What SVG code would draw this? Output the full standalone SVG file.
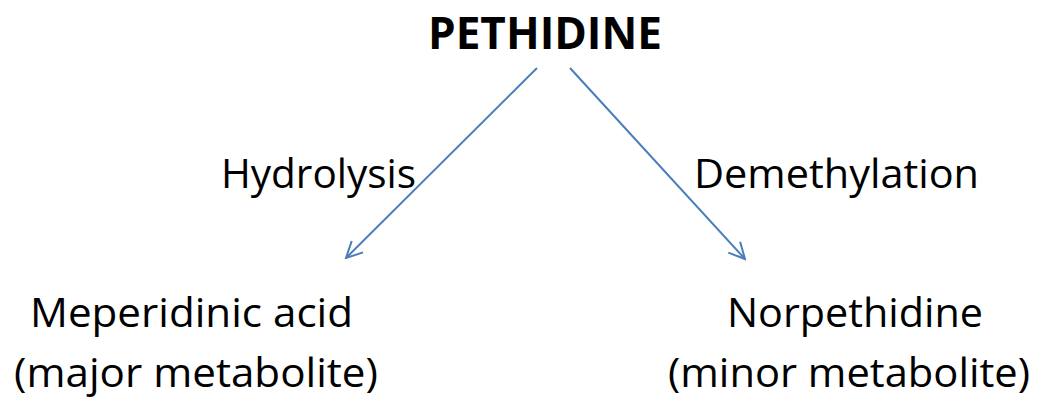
<svg xmlns="http://www.w3.org/2000/svg" width="1042" height="404" viewBox="0 0 1042 404">
<style>
text{font-family:"Open Sans","Liberation Sans",sans-serif;fill:#000;font-size:41px}
.t{font-weight:bold;font-size:44px}
.c{stroke:#4a7ebb;stroke-width:2;fill:none}
</style>
<defs>
<marker id="a" viewBox="0 0 20 20" refX="18" refY="10" markerWidth="20" markerHeight="20" markerUnits="userSpaceOnUse" orient="auto">
<path d="M2,2 L18,10 L2,18" fill="none" stroke="#4a7ebb" stroke-width="2"/>
</marker>
</defs>
<rect width="1042" height="404" fill="#fff"/>
<g id="pethidine"><text class="t" x="428" y="49" textLength="234" lengthAdjust="spacingAndGlyphs">PETHIDINE</text></g>
<g id="meperidinic"><text x="30" y="327" textLength="323" lengthAdjust="spacingAndGlyphs">Meperidinic acid</text><text x="14" y="387" textLength="364" lengthAdjust="spacingAndGlyphs">(major metabolite)</text></g>
<g id="norpethidine"><text x="727" y="327" textLength="256" lengthAdjust="spacingAndGlyphs">Norpethidine</text><text x="668" y="387" textLength="362" lengthAdjust="spacingAndGlyphs">(minor metabolite)</text></g>
<g id="connectors">
<line class="c" x1="537" y1="68" x2="346" y2="258" marker-end="url(#a)"/>
<line class="c" x1="570" y1="68" x2="745" y2="259" marker-end="url(#a)"/>
<text x="221" y="188" textLength="195" lengthAdjust="spacingAndGlyphs">Hydrolysis</text>
<text x="694" y="188" textLength="285" lengthAdjust="spacingAndGlyphs">Demethylation</text>
</g>
</svg>
